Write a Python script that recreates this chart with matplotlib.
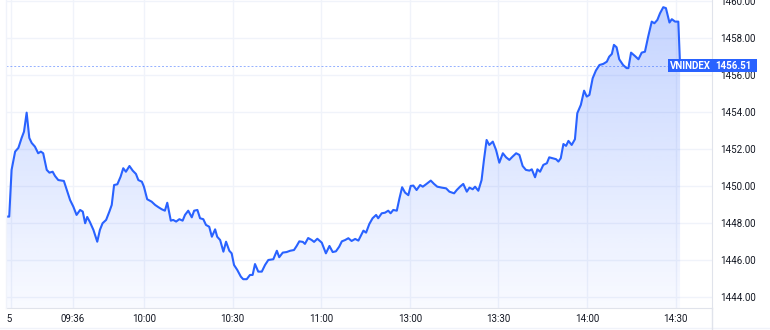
import matplotlib
matplotlib.use("Agg")
import matplotlib.pyplot as plt
import matplotlib.transforms as mtransforms
from matplotlib.lines import Line2D
from matplotlib.patches import Rectangle
import numpy as np

plt.rcParams["font.family"] = ["Roboto", "DejaVu Sans"]

# trading minutes since 09:15 (lunch break 11:30-13:00 removed)
MINUTES = [
    -1.7, -0.6, 0.2, 1.4, 2.5, 3.6, 4.4, 5.3, 6.2, 7.0,
    8.1, 9.2, 10.1, 10.9, 12.1, 13.0, 14.1, 14.9, 16.0, 17.2,
    17.9, 18.9, 20.0, 21.1, 22.2, 23.4, 24.3, 25.1, 25.8, 26.7,
    27.9, 29.2, 30.1, 31.0, 32.2, 33.3, 34.1, 34.9, 36.0, 37.1,
    38.0, 38.9, 40.1, 41.2, 42.3, 43.1, 44.3, 45.0, 46.1, 47.6,
    48.8, 49.9, 51.0, 52.1, 52.9, 54.1, 54.9, 55.9, 57.0, 58.1,
    58.9, 60.0, 61.2, 62.0, 63.1, 64.0, 65.1, 66.0, 67.1, 68.0,
    69.1, 69.8, 70.8, 71.9, 72.8, 73.9, 74.7, 75.5, 76.6, 77.8,
    78.6, 79.8, 80.9, 81.8, 82.6, 83.7, 84.9, 86.0, 87.1, 88.8,
    90.0, 90.8, 92.0, 93.3, 94.5, 95.8, 96.7, 97.6, 98.8, 99.5,
    100.6, 101.8, 102.6, 103.7, 105.2, 106.6, 107.8, 108.9, 110.0, 111.1,
    112.0, 113.1, 114.2, 115.3, 116.5, 117.6, 119.3, 120.2, 121.3, 122.4,
    123.6, 124.3, 125.5, 126.6, 127.7, 128.5, 129.4, 130.6, 131.5, 132.4,
    133.4, 134.5, 135.3, 136.2, 137.3, 138.5, 139.4, 140.5, 142.1, 143.2,
    144.3, 145.8, 147.3, 148.4, 150.0, 150.9, 152.0, 153.1, 154.3, 155.2,
    156.3, 157.1, 158.2, 159.3, 160.1, 161.0, 161.9, 163.1, 164.2, 165.3,
    166.5, 167.6, 168.7, 169.8, 171.0, 172.1, 173.2, 174.3, 175.5, 176.3,
    177.4, 178.2, 179.1, 180.2, 181.4, 182.2, 183.4, 184.5, 185.3, 186.1,
    187.0, 187.9, 188.7, 189.8, 190.9, 191.7, 192.9, 194.0, 194.9, 195.8,
    196.9, 198.0, 199.2, 200.5, 201.7, 202.5, 203.4, 204.1, 205.0, 205.9,
    207.2, 208.4, 209.0, 209.9, 211.2, 212.4, 213.5, 214.6, 215.7, 216.9,
    217.8, 218.8, 219.7, 220.8, 221.7, 222.9, 223.7, 224.8, 225.9, 226.5,
]

PRICES = [
    1448.34, 1448.34, 1450.87, 1451.86, 1452.06, 1452.60, 1452.94, 1453.97, 1452.60, 1452.33,
    1452.13, 1451.77, 1451.86, 1451.77, 1450.87, 1450.72, 1450.77, 1450.54, 1450.32, 1450.29,
    1450.27, 1449.78, 1449.24, 1448.88, 1448.43, 1448.70, 1448.61, 1447.98, 1448.32, 1448.05,
    1447.62, 1446.98, 1447.62, 1447.98, 1448.16, 1448.61, 1448.97, 1450.05, 1450.09, 1450.50,
    1450.96, 1450.77, 1451.08, 1450.83, 1450.65, 1450.32, 1450.23, 1449.96, 1449.28, 1449.15,
    1448.97, 1448.85, 1448.74, 1448.66, 1449.09, 1448.12, 1448.16, 1448.07, 1448.20, 1448.12,
    1448.43, 1448.66, 1448.30, 1448.66, 1448.70, 1448.25, 1448.20, 1447.89, 1447.79, 1447.25,
    1447.65, 1447.25, 1447.07, 1446.44, 1446.98, 1446.49, 1446.35, 1445.72, 1445.45, 1445.09,
    1444.95, 1444.95, 1445.18, 1445.18, 1445.77, 1445.36, 1445.36, 1445.72, 1445.99, 1446.03,
    1446.49, 1446.14, 1446.39, 1446.42, 1446.49, 1446.53, 1446.75, 1447.00, 1446.97, 1446.86,
    1447.18, 1447.07, 1446.97, 1447.14, 1446.93, 1446.35, 1446.75, 1446.42, 1446.46, 1446.71,
    1447.00, 1447.07, 1447.17, 1447.02, 1447.13, 1447.04, 1447.58, 1447.47, 1447.94, 1448.25,
    1448.43, 1448.25, 1448.52, 1448.55, 1448.66, 1448.52, 1448.70, 1448.66, 1449.33, 1449.93,
    1449.64, 1449.50, 1450.00, 1450.02, 1449.78, 1450.05, 1449.96, 1450.09, 1450.29, 1450.11,
    1449.96, 1449.91, 1449.87, 1449.69, 1449.60, 1449.78, 1449.96, 1450.11, 1449.69, 1449.91,
    1449.82, 1449.96, 1449.74, 1450.32, 1451.41, 1452.49, 1452.22, 1452.40, 1451.95, 1451.26,
    1451.77, 1451.55, 1451.41, 1451.59, 1451.77, 1451.68, 1451.08, 1450.87, 1450.83, 1450.90,
    1450.47, 1450.90, 1450.77, 1451.14, 1451.23, 1451.55, 1451.50, 1451.45, 1451.32, 1451.50,
    1452.27, 1452.17, 1452.44, 1452.22, 1452.53, 1453.94, 1454.39, 1455.16, 1454.84, 1454.93,
    1455.83, 1456.25, 1456.55, 1456.61, 1456.73, 1457.00, 1457.15, 1457.64, 1457.51, 1456.86,
    1456.55, 1456.38, 1456.38, 1457.22, 1457.04, 1456.86, 1457.22, 1457.27, 1458.09, 1458.90,
    1458.81, 1458.99, 1459.35, 1459.68, 1459.63, 1458.85, 1459.03, 1458.90, 1458.90, 1456.51,
]

TICK_MINUTES = [21, 45, 75, 105, 135, 165, 195, 225]
TICK_LABELS = ["09:36", "10:00", "10:30", "11:00", "13:00", "13:30", "14:00", "14:30"]
Y_TICKS = [1444, 1446, 1448, 1450, 1452, 1454, 1456, 1458, 1460]

SYMBOL = "VNINDEX"
LAST_PRICE = PRICES[-1]

LINE_COLOR = "#2962ff"
GRID_COLOR = "#f0f3fa"
BORDER_COLOR = "#e0e3eb"
TEXT_COLOR = "#131722"

W, H = 770, 330
fig = plt.figure(figsize=(W / 100, H / 100), dpi=100)
fig.patch.set_facecolor("white")
ax = fig.add_axes([6 / W, 22 / H, 706 / W, 308 / H])

x_min, x_max = -1.69, 237.3
y_min, y_max = 1443.39, 1460.07
ax.set_xlim(x_min, x_max)
ax.set_ylim(y_min, y_max)

# grid
for yv in Y_TICKS:
    ax.axhline(yv, color=GRID_COLOR, lw=1.0, zorder=0)
for xv in [0] + TICK_MINUTES:
    ax.axvline(xv, color=GRID_COLOR, lw=1.0, zorder=0)

# gradient area under the line
fill = ax.fill_between(MINUTES, PRICES, y_min, facecolor="none", edgecolor="none")
alpha = np.linspace(0.28, 0.03, 256)[:, None]
grad = np.zeros((256, 1, 4))
grad[..., 0] = 41 / 255
grad[..., 1] = 98 / 255
grad[..., 2] = 1.0
grad[..., 3] = alpha
im = ax.imshow(grad, extent=[x_min, x_max, y_min, y_max], aspect="auto",
               origin="upper", zorder=1, interpolation="bilinear")
im.set_clip_path(fill.get_paths()[0], transform=ax.transData)

ax.plot(MINUTES, PRICES, color=LINE_COLOR, lw=1.5, zorder=3,
        solid_joinstyle="round")

# last price dashed line
ax.axhline(LAST_PRICE, color=LINE_COLOR, lw=0.7, alpha=0.5,
           linestyle=(0, (2, 2)), zorder=2)

for side in ["top", "left"]:
    ax.spines[side].set_visible(False)
ax.spines["bottom"].set_color(BORDER_COLOR)
ax.spines["right"].set_color(BORDER_COLOR)

ax.yaxis.tick_right()
ax.set_yticks(Y_TICKS)
ax.set_yticklabels([f"{v:.2f}" for v in Y_TICKS])
ax.set_xticks(TICK_MINUTES)
ax.set_xticklabels(TICK_LABELS)
ax.tick_params(axis="y", length=0, pad=6, labelsize=7, labelcolor=TEXT_COLOR)
ax.tick_params(axis="x", length=0, pad=4, labelsize=7, labelcolor=TEXT_COLOR)
for lbl in ax.get_yticklabels():
    lbl.set_horizontalalignment("left")

# first session label, clipped at the pane edge
first = fig.text(12.5 / W, 1 - 319 / H, "09:15", ha="right", va="center",
                 fontsize=7, color=TEXT_COLOR)
first.set_clip_box(mtransforms.Bbox([[6, 0], [W, H]]))

# left border and bottom frame lines
fig.add_artist(Line2D([6 / W, 6 / W], [22 / H, 1], color=GRID_COLOR, lw=1.0))
fig.add_artist(Line2D([0, 1], [2 / H, 2 / H], color=GRID_COLOR, lw=1.0))
fig.add_artist(Line2D([712 / W, 712 / W], [0, 22 / H], color=BORDER_COLOR, lw=1.0))

# price label
blend = mtransforms.blended_transform_factory(fig.transFigure, ax.transData)
box_h = 13 / 18.46
ax.add_patch(Rectangle((668 / W, LAST_PRICE - box_h / 2), 89 / W, box_h,
                       transform=blend, facecolor=LINE_COLOR, edgecolor="none",
                       clip_on=False, zorder=5))
ax.text(670 / W, LAST_PRICE, SYMBOL, transform=blend, ha="left", va="center",
        color="white", fontsize=7, fontweight="bold", clip_on=False, zorder=6)
ax.text(752 / W, LAST_PRICE, f"{LAST_PRICE:.2f}", transform=blend, ha="right",
        va="center", color="white", fontsize=7, fontweight="bold",
        clip_on=False, zorder=6)

fig.savefig("out.png", dpi=100)
